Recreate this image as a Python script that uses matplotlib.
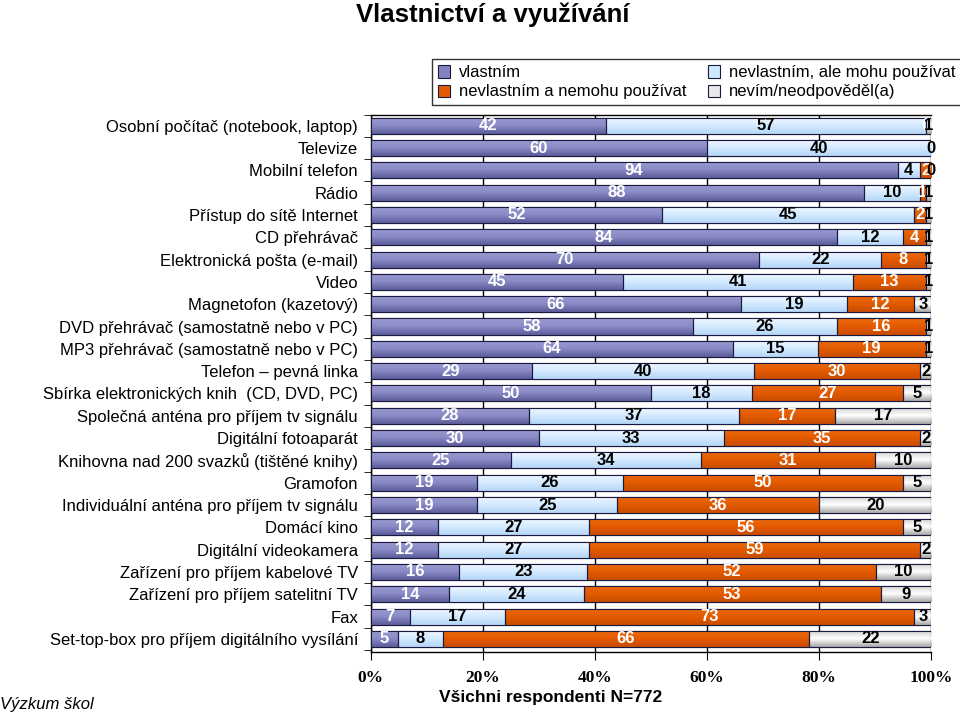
import matplotlib.pyplot as plt
from matplotlib.colors import LinearSegmentedColormap
import numpy as np

plt.rcParams['font.family'] = ['Liberation Sans', 'DejaVu Sans']

categories = [
    "Osobní počítač (notebook, laptop)",
    "Televize",
    "Mobilní telefon",
    "Rádio",
    "Přístup do sítě Internet",
    "CD přehrávač",
    "Elektronická pošta (e-mail)",
    "Video",
    "Magnetofon (kazetový)",
    "DVD přehrávač (samostatně nebo v PC)",
    "MP3 přehrávač (samostatně nebo v PC)",
    "Telefon – pevná linka",
    "Sbírka elektronických knih  (CD, DVD, PC)",
    "Společná anténa pro příjem tv signálu",
    "Digitální fotoaparát",
    "Knihovna nad 200 svazků (tištěné knihy)",
    "Gramofon",
    "Individuální anténa pro příjem tv signálu",
    "Domácí kino",
    "Digitální videokamera",
    "Zařízení pro příjem kabelové TV",
    "Zařízení pro příjem satelitní TV",
    "Fax",
    "Set-top-box pro příjem digitálního vysílání",
]

vlastnim = [42, 60, 94, 88, 52, 84, 70, 45, 66, 58, 64, 29, 50, 28, 30, 25, 19, 19, 12, 12, 16, 14, 7, 5]
mohu = [57, 40, 4, 10, 45, 12, 22, 41, 19, 26, 15, 40, 18, 37, 33, 34, 26, 25, 27, 27, 23, 24, 17, 8]
nemohu = [0, 0, 2, 1, 2, 4, 8, 13, 12, 16, 19, 30, 27, 17, 35, 31, 50, 36, 56, 59, 52, 53, 73, 66]
nevim = [1, 0, 0, 1, 1, 1, 1, 1, 3, 1, 1, 2, 5, 17, 2, 10, 5, 20, 5, 2, 10, 9, 3, 22]

series_names = ["vlastním", "nevlastním, ale mohu používat",
                "nevlastním a nemohu používat", "nevím/neodpověděl(a)"]
colors = ["#8282c0", "#cfe7ff", "#e35b00", "#e8e8e8"]
# gradient stops top -> middle -> bottom, imitating the 3D look
grad_stops = [
    ["#9c9cd2", "#8a8ac6", "#5c5c9a"],
    ["#f2f9ff", "#d4eaff", "#b4d6f6"],
    ["#ec6a10", "#e35b00", "#c84c00"],
    ["#cfcfcf", "#ffffff", "#a8a8a8"],
]
text_colors = ["white", "black", "white", "black"]

data = np.array([vlastnim, mohu, nemohu, nevim], dtype=float)
pct = data / data.sum(axis=0) * 100

fig = plt.figure(figsize=(9.6, 7.16), dpi=100)
ax = fig.add_axes([0.386, 0.089, 0.584, 0.751])

y = np.arange(len(categories))
left = np.zeros(len(categories))
bars = []
grad = np.linspace(0, 1, 64).reshape(-1, 1)
for k in range(4):
    cmap = LinearSegmentedColormap.from_list("g%d" % k, grad_stops[k])
    b = ax.barh(y, pct[k], left=left, height=0.72, color=colors[k],
                edgecolor="#1a1a40", linewidth=0.8, zorder=3)
    bars.append(b)
    for i, rect in enumerate(b):
        if pct[k][i] <= 0:
            continue
        x0, y0 = rect.get_x(), rect.get_y()
        w, h = rect.get_width(), rect.get_height()
        im = ax.imshow(grad, cmap=cmap, aspect="auto", zorder=3.1,
                       extent=(x0, x0 + w, y0 + h, y0), interpolation="bilinear")
        im.set_clip_path(rect)
        # edge on top of the gradient
        ax.add_patch(plt.Rectangle((x0, y0), w, h, fill=False,
                                   edgecolor="#1a1a40", linewidth=0.8, zorder=3.2))
    for i in range(len(categories)):
        ax.text(left[i] + pct[k][i] / 2, y[i], "%d" % data[k][i],
                ha="center", va="center", fontsize=12, fontweight="bold",
                color=text_colors[k], zorder=4)
    left += pct[k]

ax.set_xlim(0, 100)
ax.set_ylim(23.6, -0.45)
ax.set_xticks([0, 20, 40, 60, 80, 100])
ax.set_xticklabels(["0%", "20%", "40%", "60%", "80%", "100%"],
                   family="Liberation Serif", fontweight="bold", fontsize=12.5)
ax.tick_params(axis="x", length=6, pad=7, direction="out")
ax.set_yticks(y)
ax.set_yticklabels(categories, fontsize=12)
ax.tick_params(axis="y", which="major", length=0, pad=9)
ax.set_yticks(np.arange(len(categories) + 1) - 0.5, minor=True)
ax.tick_params(axis="y", which="minor", length=5, direction="out")
ax.grid(axis="x", color="black", linewidth=1, zorder=0)
ax.spines["right"].set_visible(False)
for s in ["top", "left", "bottom"]:
    ax.spines[s].set_linewidth(1)

handles = [bars[0], bars[2], bars[1], bars[3]]
labels = [series_names[0], series_names[2], series_names[1], series_names[3]]
leg = fig.legend(handles, labels, ncol=2, loc="upper left",
                 bbox_to_anchor=(0.45, 0.917),
                 fontsize=12, frameon=True, fancybox=False, edgecolor="black",
                 handlelength=0.75, handleheight=0.75, handletextpad=0.5,
                 borderaxespad=0, labelspacing=0.25, borderpad=0.35,
                 columnspacing=1.3)
leg.get_frame().set_linewidth(1)

fig.text(0.513, 0.997, "Vlastnictví a využívání", ha="center", va="top",
         fontsize=18.5, fontweight="bold")
fig.text(0.574, 0.026, "Všichni respondenti N=772", ha="center", va="center",
         fontsize=12.5, fontweight="bold")
fig.text(0.0, 0.016, "Výzkum škol", ha="left", va="center",
         fontsize=12, style="italic")

fig.savefig("out.png", dpi=100)
